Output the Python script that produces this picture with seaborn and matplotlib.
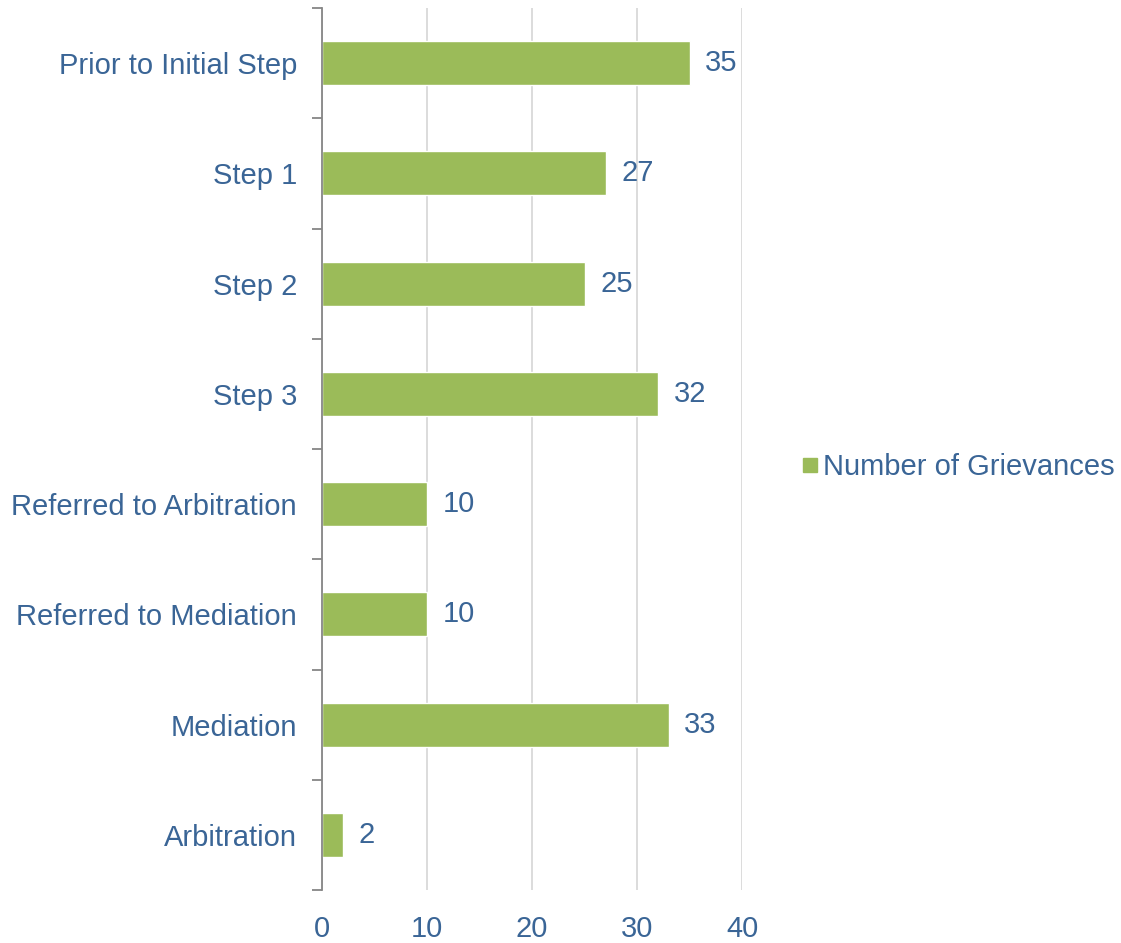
import numpy as np
import pandas as pd
import matplotlib.pyplot as plt
import seaborn as sns
from matplotlib.ticker import FixedLocator

categories = ["Prior to Initial Step", "Step 1", "Step 2", "Step 3",
              "Referred to Arbitration", "Referred to Mediation",
              "Mediation", "Arbitration"]
grievances = [35, 27, 25, 32, 10, 10, 33, 2]
series_name = "Number of Grievances"

bar_color = "#9BBB59"
text_color = "#3A6596"

df = pd.DataFrame({"stage": categories, "count": grievances})

sns.set_style("white")
plt.rcParams["font.family"] = ["Liberation Sans", "DejaVu Sans"]

fig = plt.figure(figsize=(11.21, 9.43), dpi=100)
ax = fig.add_axes([322 / 1121, 1 - 890 / 943, 420 / 1121, 882 / 943])

sns.barplot(data=df, y="stage", x="count", color=bar_color, width=0.4,
            saturation=1, ax=ax)

ax.set_xlim(0, 40)
ax.set_ylim(len(categories) - 0.5, -0.5)
ax.set_xticks([0, 10, 20, 30, 40])
ax.xaxis.grid(True, color="#D9D9D9", linewidth=1.3)
ax.set_axisbelow(True)
ax.set_xlabel("")
ax.set_ylabel("")

for s in ["top", "right", "bottom"]:
    ax.spines[s].set_visible(False)
ax.spines["left"].set_color("#868686")
ax.spines["left"].set_linewidth(1.3)

# category labels centred, tick marks between categories
ax.tick_params(axis="y", which="major", length=0, pad=18,
               labelsize=21, labelcolor=text_color)
ax.yaxis.set_minor_locator(FixedLocator(np.arange(-0.5, len(categories), 1)))
ax.tick_params(axis="y", which="minor", length=7, width=1.3,
               color="#868686", left=True)
ax.tick_params(axis="x", length=0, pad=18, labelsize=21,
               labelcolor=text_color)

for i, v in enumerate(grievances):
    ax.text(v + 1.5, i, str(v), va="center", ha="left", fontsize=21,
            color=text_color)

handles = [plt.Line2D([], [], marker="s", linestyle="", markersize=10,
                      color=bar_color)]
fig.legend(handles, [series_name], loc="center left",
           bbox_to_anchor=(800 / 1121, 1 - 467 / 943), frameon=False,
           fontsize=21, labelcolor=text_color, handletextpad=0.1,
           handlelength=0.7, borderpad=0, borderaxespad=0)

fig.savefig("out.png", dpi=100)
